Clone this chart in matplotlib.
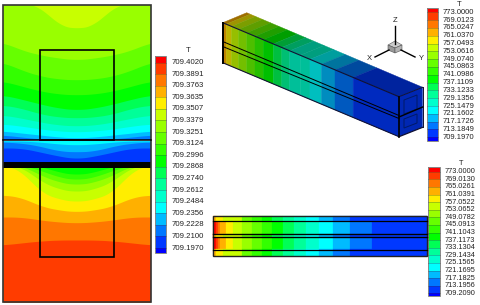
import matplotlib
matplotlib.use('Agg')
import matplotlib.pyplot as plt
import numpy as np
from matplotlib.patches import Polygon, Rectangle

plt.rcParams['font.family'] = ['Liberation Sans', 'DejaVu Sans']

band_colors = ['#ff0000', '#ff3c00', '#ff7700', '#ffb000', '#ffee00', '#c8ff00',
               '#99ff00', '#66ff00', '#33ff00', '#00ff00', '#00ff55', '#00ff99',
               '#00ffcc', '#00ffff', '#00bbff', '#0077ff', '#0038ff', '#0000ff']

labels_left = ['709.4020', '709.3891', '709.3763', '709.3635', '709.3507', '709.3379',
               '709.3251', '709.3124', '709.2996', '709.2868', '709.2740', '709.2612',
               '709.2484', '709.2356', '709.2228', '709.2100', '709.1970']
labels_box = ['773.0000', '769.0123', '765.0247', '761.0370', '757.0493', '753.0616',
              '749.0740', '745.0863', '741.0986', '737.1109', '733.1233', '729.1356',
              '725.1479', '721.1602', '717.1726', '713.1849', '709.1970']
labels_side = ['773.0000', '769.0130', '765.0261', '761.0391', '757.0522', '753.0652',
               '749.0782', '745.0913', '741.1043', '737.1173', '733.1304', '729.1434',
               '725.1565', '721.1695', '717.1825', '713.1956', '709.2090']

# half section stations, edge to centre
half_x = [3, 21, 40, 58, 76.5]

# bands that hang from the top of a part: (colour index, lower limit at each station)
upper_caps = [(5, [3, 3, 6, 25, 29])]
strip_caps = [(15, [148, 148, 152, 156, 159]),
              (14, [142, 143, 146, 151, 152]),
              (13, [141, 141, 142, 144, 145])]
lower_caps = [(5, [165, 170, 192, 199, 202]),
              (6, [165, 166, 181, 189, 192]),
              (7, [165, 165, 175, 182, 185]),
              (8, [165, 165, 170, 177, 180]),
              (9, [165, 165, 166, 172, 175])]
# bands that stand on the bottom: (colour index, upper limit at each station)
upper_floors = [(7, [42, 50, 55, 58, 60]),
                (8, [62, 70, 76, 79, 80]),
                (9, [81, 86, 91, 94, 95]),
                (10, [95, 99, 104, 108, 110]),
                (11, [105, 108, 114, 117, 118]),
                (12, [115, 118, 122, 125, 126]),
                (13, [124, 126, 129, 131, 132]),
                (14, [131, 133, 135, 137, 138]),
                (15, [135, 137, 139, 139, 139])]
lower_floors = [(3, [195, 197, 206, 210, 212]),
                (2, [217, 217, 220, 222, 223]),
                (1, [245, 243, 241, 240, 240])]

# colour change positions along the beam, as a share of its length
box_stations = [0.0, 0.02, 0.05, 0.09, 0.136, 0.183, 0.23, 0.287, 0.335, 0.38,
                0.44, 0.495, 0.56, 0.637, 0.74, 1.0]
box_colors = [3, 4, 5, 6, 7, 8, 9, 10, 11, 12, 12, 13, 14, 15, 16]

side_stations = [213, 215.5, 217.5, 220, 225.7, 233.3, 242.3, 251.7, 261.7, 272.3,
                 282.7, 294, 305.7, 319, 333.3, 350, 372.3, 426.7]
side_outer_stations = [213, 216, 223, 242, 252, 262, 272, 283, 294, 306, 319, 333,
                       350, 372, 426.7]
side_outer_colors = [3, 4, 5, 7, 8, 9, 10, 11, 12, 13, 14, 15, 16, 16]

fig = plt.figure(figsize=(4.8, 3.05), dpi=100)
ax = fig.add_axes([0, 0, 1, 1])
ax.set_xlim(0, 480)
ax.set_ylim(305, 0)
ax.axis('off')

section_x = half_x + [153.5 - x for x in half_x[-2::-1]]
xx = np.linspace(3, 150.5, 150)


def shade(color, f):
    r, g, b = matplotlib.colors.to_rgb(color)
    return (r * f, g * f, b * f)


# read limits joined up and rounded off so the bands do not look like polygons
def curve(limit):
    y = np.interp(xx, section_x, limit + limit[-2::-1])
    pad = np.pad(y, 12, mode='edge')
    return np.convolve(pad, np.ones(25) / 25, mode='valid')


# base colour, then caps from the top and floors from the bottom, painted in order
def fillSection(base, caps, floors, top, bottom):
    ax.add_patch(Rectangle((3, top), 147.5, bottom - top, fc=band_colors[base], ec='none'))
    for idx, limit in caps:
        ax.fill_between(xx, top, np.maximum(top, curve(limit)), color=band_colors[idx], lw=0)
    for idx, limit in floors:
        ax.fill_between(xx, curve(limit), bottom, color=band_colors[idx], lw=0)


fillSection(6, upper_caps, upper_floors, 5, 139.5)
fillSection(16, strip_caps, [], 140.5, 162)
fillSection(4, lower_caps, lower_floors, 167, 302)

ax.add_patch(Rectangle((3, 162), 147.5, 5.5, fc='black', ec='none'))
ax.plot([3, 150.5], [140, 140], color='black', lw=1.1)
ax.add_patch(Rectangle((40, 49.5), 74, 90, fc='none', ec='black', lw=1.2))
ax.add_patch(Rectangle((40, 167), 74, 90, fc='none', ec='black', lw=1.2))
ax.add_patch(Rectangle((3, 5), 147.5, 297, fc='none', ec='#333333', lw=1.2))


# colour bar with half bands at both ends
def colorBar(x0, x1, top, bottom, first, last, labels, size, tx, title_x, title_y):
    ys = np.linspace(first, last, len(labels))
    edges = [top] + list(ys) + [bottom]
    for k, c in enumerate(band_colors):
        ax.add_patch(Rectangle((x0, edges[k]), x1 - x0, edges[k + 1] - edges[k],
                               fc=c, ec='none'))
    for y in ys:
        ax.plot([x0, x1], [y, y], color='#333333', lw=0.4, alpha=0.5)
    ax.add_patch(Rectangle((x0, top), x1 - x0, bottom - top, fc='none', ec='#888888', lw=0.7))
    for y, s in zip(ys, labels):
        ax.text(tx, y, s, fontsize=size, color='#222222', va='center', ha='left')
    ax.text(title_x, title_y, 'T', fontsize=size, color='#222222', va='center', ha='center')


colorBar(154.5, 166, 56, 253, 62.5, 248, labels_left, 5.6, 172, 188.7, 50)
colorBar(426.7, 438, 8, 141, 12.3, 137.3, labels_box, 5.5, 443, 459, 4.7)
colorBar(428, 440, 167.3, 296, 171.7, 293.3, labels_side, 5.3, 445, 460.7, 163.7)


# 3d beam, corners
fl_top = np.array([222.7, 22.7])
fl_bot = np.array([222.7, 62.7])
fr_top = np.array([399, 96.7])
fr_bot = np.array([399, 136.7])
bl_top = np.array([246.7, 12.7])
br_top = np.array([422.7, 87.3])
br_bot = np.array([422.7, 127.3])

for k, idx in enumerate(box_colors):
    a, b = box_stations[k], box_stations[k + 1]
    c = band_colors[idx]
    front = shade(c, 0.75)
    above = shade(c, 0.62)
    ax.add_patch(Polygon([fl_top + a * (fr_top - fl_top), fl_top + b * (fr_top - fl_top),
                          fl_bot + b * (fr_bot - fl_bot), fl_bot + a * (fr_bot - fl_bot)],
                         fc=front, ec=front, lw=0.3))
    ax.add_patch(Polygon([fl_top + a * (fr_top - fl_top), fl_top + b * (fr_top - fl_top),
                          bl_top + b * (br_top - bl_top), bl_top + a * (br_top - bl_top)],
                         fc=above, ec=above, lw=0.3))

ax.add_patch(Polygon([fr_top, br_top, br_bot, fr_bot], fc=shade('#0038ff', 0.7), ec='none'))
# end face inner outlines
ax.add_patch(Polygon([(404, 100), (417, 95), (417, 109), (404, 114)], fc='none', ec='#001a66', lw=0.7))
ax.add_patch(Polygon([(404, 119), (417, 114), (417, 123), (404, 128)], fc='none', ec='#001a66', lw=0.7))

for p, q, w in [(fl_top, fr_top, 0.8), (fl_bot, fr_bot, 0.8), (fr_top, br_top, 0.7),
                (br_top, br_bot, 0.7), (fr_bot, br_bot, 0.9)]:
    ax.plot([p[0], q[0]], [p[1], q[1]], color='#111133', lw=w)
ax.plot([fl_top[0], fl_bot[0]], [fl_top[1], fl_bot[1]], color='black', lw=1.4)
ax.plot([fr_top[0], fr_bot[0]], [fr_top[1], fr_bot[1]], color='black', lw=1.2)
# slot lines on the front face
ax.plot([222.7, 399], [41.5, 115.5], color='black', lw=0.7)
ax.plot([222.7, 399], [46.5, 118.5], color='black', lw=0.7)
ax.plot([399, 422.7], [117, 107], color='black', lw=1.0)

# orientation triad
ax.plot([395, 395], [26, 44], color='black', lw=1.0)
ax.plot([375, 389], [57, 50], color='black', lw=1.0)
ax.plot([401, 415], [50, 57], color='black', lw=1.0)
ax.add_patch(Polygon([(388, 45), (395, 41), (402, 45), (395, 48)], fc='#cccccc', ec='#555555', lw=0.4))
ax.add_patch(Polygon([(388, 45), (395, 48), (395, 53), (388, 50)], fc='#999999', ec='#555555', lw=0.4))
ax.add_patch(Polygon([(395, 48), (402, 45), (402, 50), (395, 53)], fc='#b3b3b3', ec='#555555', lw=0.4))
ax.text(395, 20, 'Z', fontsize=5.5, color='#222222', ha='center', va='center')
ax.text(369, 59, 'X', fontsize=5.5, color='#222222', ha='center', va='center')
ax.text(421, 59, 'Y', fontsize=5.5, color='#222222', ha='center', va='center')

# side view of the beam
side_top, side_bot = 215.7, 255.7
for k in range(len(side_stations) - 1):
    c = band_colors[k]
    ax.add_patch(Rectangle((side_stations[k], 221), side_stations[k + 1] - side_stations[k], 28,
                           fc=c, ec=c, lw=0.2))
for k, idx in enumerate(side_outer_colors):
    w = side_outer_stations[k + 1] - side_outer_stations[k]
    c = band_colors[idx]
    ax.add_patch(Rectangle((side_outer_stations[k], side_top), w, 5.3, fc=c, ec=c, lw=0.2))
    ax.add_patch(Rectangle((side_outer_stations[k], 249), w, side_bot - 249, fc=c, ec=c, lw=0.2))
    ax.add_patch(Rectangle((side_outer_stations[k], 234), w, 3, fc=c, ec=c, lw=0.2))
ax.plot([213, 426.7], [221, 221], color='black', lw=0.9)
ax.plot([213, 426.7], [249.5, 249.5], color='black', lw=0.9)
ax.plot([213, 426.7], [233.5, 233.5], color='black', lw=1.0)
ax.plot([213, 426.7], [236.5, 236.5], color='black', lw=1.0)
ax.add_patch(Rectangle((213, side_top), 213.7, side_bot - side_top, fc='none', ec='#222222', lw=1.0))

fig.savefig('out.png', dpi=100)
